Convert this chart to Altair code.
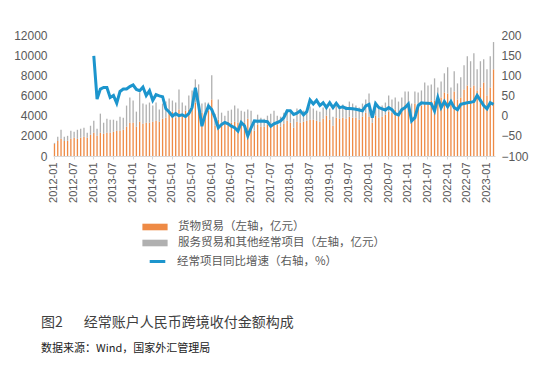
import altair as alt
import pandas as pd

# ---- categories ----
months = [f"{y}-{m:02d}" for y in range(2012, 2024) for m in range(1, 13)][:135]
tick_months = [m for m in months if m.endswith("-01") or m.endswith("-07")]

GOODS_LBL = "货物贸易（左轴，亿元）"
SERV_LBL = "服务贸易和其他经常项目（左轴，亿元）"
LINE_LBL = "经常项目同比增速（右轴，%）"
CAPTION = "图2\u3000\u2002经常账户人民币跨境收付金额构成"
SOURCE = "数据来源：Wind，国家外汇管理局"

# ---- values (亿元), 2012-01 .. 2023-03 ----
goods = [
    1200, 1500, 1700, 1500, 1500, 1700, 1800, 1700, 1800, 1900, 1800, 2100,
    2300, 2000, 2300, 2200, 2300, 2300, 2400, 2500, 2500, 2600, 2900, 3300,
    3300, 2900, 3400, 3200, 3300, 3300, 3400, 3500, 3400, 3700, 3800, 4300,
    4400, 3800, 4600, 4200, 4500, 4600, 4800, 5300, 4700, 4300, 4300, 4500,
    5600, 3000, 3600, 3300, 3300, 3400, 3300, 3400, 3300, 3100, 3300, 3700,
    3000, 2500, 3100, 2900, 2900, 3100, 3000, 3100, 3100, 2900, 3200, 3500,
    3300, 2800, 3400, 3300, 3400, 3500, 3600, 3600, 3500, 3400, 3700, 4000,
    3600, 3000, 3800, 3700, 3800, 3700, 3900, 3800, 3800, 3600, 3900, 4300,
    3900, 3300, 4000, 3800, 3900, 4100, 4400, 4300, 4600, 4300, 4600, 5100,
    4900, 4000, 5200, 5000, 5000, 5300, 5400, 5500, 5500, 5300, 5800, 6300,
    6200, 5100, 6400, 5600, 5800, 6600, 7000, 6800, 7000, 6500, 6800, 7300,
    6000, 6800, 8600,
]
services = [
    100, 400, 900, 400, 500, 800, 600, 900, 900, 900, 500, 900,
    1200, 700, 1900, 1100, 1400, 1300, 1200, 1000, 1400, 1200, 2100, 2500,
    2200, 1500, 2900, 2000, 1800, 2000, 1600, 1800, 1200, 1500, 1600, 1400,
    1100, 1500, 2000, 1100, 500, 1400, 1700, 2300, 2400, 900, 1000, 800,
    2400, 1200, 2000, 1000, 700, 1100, 1300, 1600, 1400, 1400, 1100, 900,
    1500, 1000, 1000, 900, 800, 900, 1200, 1400, 900, 1000, 1100, 1100,
    1000, 900, 1300, 1000, 1100, 1000, 1300, 1100, 1000, 1000, 1100, 1100,
    1100, 900, 1200, 1100, 1300, 1200, 1500, 1400, 1200, 1200, 1300, 1300,
    2300, 1000, 1400, 1100, 1100, 1200, 1600, 1300, 1200, 1100, 1200, 1300,
    1500, 1200, 1200, 1300, 1500, 2000, 1600, 1600, 2200, 1500, 1600, 1900,
    2600, 1700, 2000, 1600, 2000, 2400, 2900, 2600, 3200, 2100, 2600, 2300,
    2600, 3100, 2700,
]
# growth (%), 2013-01 .. 2023-03
growth_months = months[12:]
growth = [
    148, 41, 66, 70, 70, 45, 50, 31, 60, 66, 66, 72,
    76, 65, 62, 71, 50, 62, 38, 52, 49, 47, 17, 9,
    -1, 5, 0, 2, -2, 5, 20, 69, 25, -26, 3, 24,
    15, -5, -30, -22, -17, -20, -26, -30, -38, -17, -25, -50,
    -30, -13, -14, -13, -14, -15, -26, -20, -17, -13, -5, 12,
    12, 3, 6, 12, 2, 10, 39, 29, 38, 25, 32, 20,
    32, 20, 31, 20, 22, 18, 18, 17, 16, 14, 12, 24,
    28, -5, 30, 20, 17, 14, 20, 15, 5, 2, 15, 20,
    29, -13, -5, 25, 32, 31, 31, 30, 12, 45, 20, 35,
    22, 35, 20, 15, 28, 30, 32, 33, 35, 50, 38, 25,
    17, 32, 28,
]

bar_df = pd.concat([
    pd.DataFrame({"month": months, "series": GOODS_LBL, "value": goods, "ord": 0}),
    pd.DataFrame({"month": months, "series": SERV_LBL, "value": services, "ord": 1}),
])
line_df = pd.DataFrame({"month": growth_months, "growth": growth, "lbl": LINE_LBL})

FONT = "Liberation Sans"
CJK = "Noto Sans CJK SC"
LAB = "#595959"

x_enc = alt.X(
    "month:O", sort=months, title=None,
    scale=alt.Scale(paddingInner=0.6, paddingOuter=0.25),
    axis=alt.Axis(values=tick_months, labelAngle=-90, labelFontSize=11, labelFont=FONT,
                  labelColor=LAB, domainColor="#d9d9d9", tickColor="#d9d9d9",
                  tickSize=3, labelPadding=3),
)

bars = alt.Chart(bar_df).mark_bar().encode(
    x=x_enc,
    y=alt.Y("value:Q", stack="zero", title=None,
            scale=alt.Scale(domain=[0, 12000]),
            axis=alt.Axis(values=list(range(0, 12001, 2000)), format="d", ticks=False,
                          domain=False, grid=False, labelFontSize=12, labelFont=FONT,
                          labelColor=LAB, labelPadding=6)),
    color=alt.Color("series:N",
                    scale=alt.Scale(domain=[GOODS_LBL, SERV_LBL], range=["#EE8A45", "#B0B0B0"]),
                    legend=alt.Legend(title=None, orient="none", legendX=96, legendY=186,
                                      symbolType="M-2.1,-0.55L2.1,-0.55L2.1,0.55L-2.1,0.55Z",
                                      symbolSize=144, symbolStrokeWidth=0, labelOffset=17,
                                      labelFontSize=11.5, labelFont=CJK, labelColor=LAB,
                                      rowPadding=4, labelLimit=500)),
    order=alt.Order("ord:Q"),
)

line = alt.Chart(line_df).mark_line(strokeWidth=3).encode(
    x=alt.X("month:O", sort=months),
    y=alt.Y("growth:Q", title=None, scale=alt.Scale(domain=[-100, 200]),
            axis=alt.Axis(orient="right", values=list(range(-100, 201, 50)), ticks=False,
                          domain=False, grid=False, labelFontSize=12, labelFont=FONT,
                          labelColor=LAB, labelPadding=6)),
    color=alt.Color("lbl:N", scale=alt.Scale(domain=[LINE_LBL], range=["#1C95CD"]),
                    legend=alt.Legend(title=None, orient="none", legendX=97, legendY=219,
                                      symbolType="M-1.3,0L1.3,0", symbolSize=144,
                                      symbolStrokeWidth=3, labelOffset=12, labelFontSize=11.5,
                                      labelFont=CJK, labelColor=LAB, labelLimit=500)),
)

caption = alt.Chart(pd.DataFrame({"t": [CAPTION]})).mark_text(
    align="left", baseline="middle", fontSize=14, font=CJK, color="#404040"
).encode(x=alt.value(-12), y=alt.value(288), text="t:N")

source = alt.Chart(pd.DataFrame({"t": [SOURCE]})).mark_text(
    align="left", baseline="middle", fontSize=11, font=CJK, color="#222222"
).encode(x=alt.value(-12), y=alt.value(314), text="t:N")

chart = alt.layer(bars, line, caption, source).resolve_scale(
    y="independent", color="independent"
).properties(
    width=442, height=121,
    padding={"left": 5, "top": 21, "right": 5, "bottom": 5},
    background="white",
).configure_view(stroke=None)

chart.save("out.html", embed_options={"renderer": "svg", "actions": False})
